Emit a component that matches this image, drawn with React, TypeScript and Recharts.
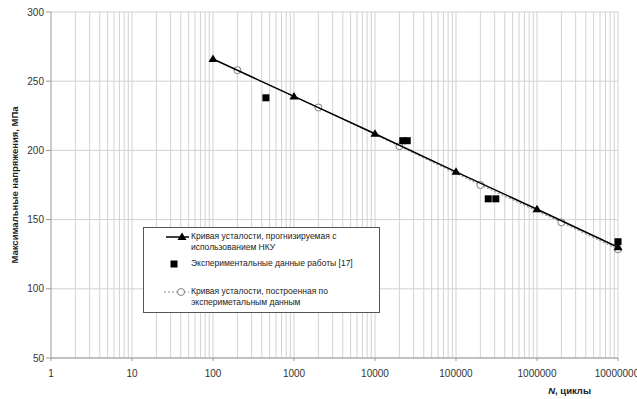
import {
  ComposedChart,
  Scatter,
  XAxis,
  YAxis,
  CartesianGrid,
  ReferenceLine,
  Legend,
} from 'recharts'

// Кривая усталости, прогнозируемая с использованием НКУ
const nkuN = [100, 1000, 10000, 100000, 1000000, 10000000]
const nkuS = [266, 239, 212, 184.5, 157.5, 130]

// Экспериментальные данные работы [17]
const expN = [450, 22000, 25000, 250000, 310000, 10000000]
const expS = [238, 207, 207, 165, 165, 134]

// Кривая по экспериментальным данным
const fitN = [200, 2000, 20000, 200000, 2000000, 10000000]
const fitS = [258, 231, 203, 175, 148, 128.5]

const xTicks = [1, 10, 100, 1000, 10000, 100000, 1000000, 10000000]
const yTicks = [50, 100, 150, 200, 250, 300]

const FONT = '"Liberation Sans", Arial, sans-serif'
const GRID = '#d2d2d2'
const AXIS = '#999999'

const toPoints = (ns: number[], ss: number[]) => ns.map((n, i) => ({ n, s: ss[i] }))

// minor log gridlines 2..9 in each decade
const minorLines: number[] = []
xTicks.slice(0, -1).forEach((d) => {
  for (let k = 2; k <= 10; k++) minorLines.push(d * k)
})

const Triangle = ({ cx, cy }: any) => (
  <path d={`M${cx},${cy - 4.5} L${cx + 4.5},${cy + 3} L${cx - 4.5},${cy + 3} Z`} fill="#000" />
)
const Square = ({ cx, cy }: any) => <rect x={cx - 3.5} y={cy - 3.5} width={7} height={7} fill="#000" />
const Circle = ({ cx, cy }: any) => (
  <circle cx={cx} cy={cy} r={3.5} fill="#fff" stroke="#7f7f7f" strokeWidth={1} />
)

const LegendBox = () => {
  const text = { fontSize: 8.5, lineHeight: '11px', color: '#222', fontFamily: FONT }
  return (
    <div
      style={{
        width: 237,
        height: 86,
        border: '1px solid #555',
        background: '#fff',
        position: 'relative',
        boxSizing: 'border-box',
      }}
    >
      <svg width={46} height={86} style={{ position: 'absolute', left: 0, top: 0 }}>
        <line x1={22} x2={45} y1={9} y2={9} stroke="#000" strokeWidth={1.5} />
        <Triangle cx={38} cy={9} />
        <Square cx={30} cy={36} />
        <line x1={20} x2={45} y1={64} y2={64} stroke="#888" strokeWidth={1} strokeDasharray="2 2" />
        <Circle cx={37} cy={64} />
      </svg>
      <div style={{ ...text, position: 'absolute', left: 47, top: 3 }}>
        Кривая усталости, прогнизируемая с
        <br />
        использованием НКУ
      </div>
      <div style={{ ...text, position: 'absolute', left: 47, top: 30 }}>
        Экспериментальные данные работы [17]
      </div>
      <div style={{ ...text, position: 'absolute', left: 47, top: 58 }}>
        Кривая усталости, построенная по
        <br />
        экспериметальным данным
      </div>
    </div>
  )
}

const YTitle = ({ viewBox }: any) => {
  const cx = 14
  const cy = viewBox.y + viewBox.height / 2
  return (
    <text
      x={cx}
      y={cy}
      transform={`rotate(-90 ${cx} ${cy})`}
      textAnchor="middle"
      dominantBaseline="central"
      fontSize={9.5}
      fontWeight="bold"
      fill="#222"
      fontFamily={FONT}
    >
      Максимальные напряжения, МПа
    </text>
  )
}

const XTitle = ({ viewBox }: any) => (
  <text
    x={viewBox.x + viewBox.width - 27}
    y={viewBox.y + 36}
    textAnchor="end"
    fontSize={9.5}
    fontWeight="bold"
    fill="#222"
    fontFamily={FONT}
  >
    <tspan fontStyle="italic">N</tspan>, циклы
  </text>
)

export default function App() {
  return (
    <div style={{ position: 'absolute', left: 0, top: 0, background: '#fff' }}>
      <ComposedChart
        width={637}
        height={399}
        margin={{ top: 12, right: 19, left: 0, bottom: 0 }}
        style={{ fontFamily: FONT }}
      >
        <CartesianGrid vertical={false} stroke={GRID} />
        {minorLines.map((v) => (
          <ReferenceLine key={v} x={v} stroke={GRID} />
        ))}
        <XAxis
          type="number"
          dataKey="n"
          scale="log"
          domain={[1, 10000000]}
          ticks={xTicks}
          height={41}
          stroke={AXIS}
          tickSize={3}
          tickMargin={9}
          tick={{ fontSize: 10, fill: '#333' }}
          label={<XTitle />}
        />
        <YAxis
          type="number"
          dataKey="s"
          domain={[50, 300]}
          ticks={yTicks}
          width={51}
          stroke={AXIS}
          tickSize={5}
          tickMargin={2}
          tick={{ fontSize: 10, fill: '#333' }}
          label={<YTitle />}
        />
        <Scatter
          data={toPoints(fitN, fitS)}
          line={{ stroke: '#888', strokeWidth: 1, strokeDasharray: '2 2' }}
          shape={<Circle />}
          isAnimationActive={false}
        />
        <Scatter
          data={toPoints(nkuN, nkuS)}
          line={{ stroke: '#000', strokeWidth: 1.5 }}
          shape={<Triangle />}
          isAnimationActive={false}
        />
        <Scatter data={toPoints(expN, expS)} shape={<Square />} isAnimationActive={false} />
        <Legend
          layout="vertical"
          align="center"
          verticalAlign="middle"
          content={<LegendBox />}
          wrapperStyle={{ left: 143, top: 227, width: 237, height: 86 }}
        />
      </ComposedChart>
    </div>
  )
}
